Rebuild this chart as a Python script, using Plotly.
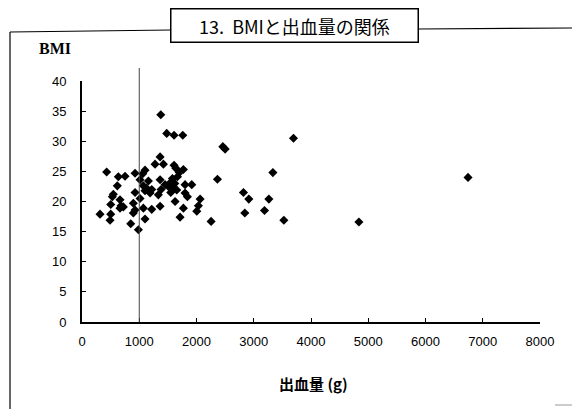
import plotly.graph_objects as go

# Data: blood loss (g) vs BMI
blood_loss = [315, 431, 490, 502, 502, 530, 547, 617, 635, 664, 664, 682, 722, 752,
              851, 897, 897, 927, 927, 927, 985, 1014, 1014, 1061, 1072, 1072, 1101,
              1101, 1101, 1130, 1160, 1189, 1218, 1218, 1276, 1334, 1364, 1364, 1376,
              1381, 1364, 1422, 1451, 1480, 1509, 1550, 1580, 1608, 1608, 1626, 1640,
              1655, 1667, 1700, 1713, 1760, 1771, 1771, 1800, 1800, 1841, 1917, 2005,
              2033, 2063, 2255, 2366, 2460, 2500, 2820, 2844, 2914, 3188, 3264, 3334,
              3526, 3694, 4837, 6743, 1589, 1550, 1620]
bmi = [17.9, 24.9, 16.9, 17.9, 19.5, 20.8, 21.2, 22.6, 24.1, 20.3, 18.9, 19.3, 19.1, 24.2,
       16.3, 19.7, 18.1, 24.7, 21.5, 18.6, 15.3, 20.5, 23.6, 24.6, 22.6, 18.9, 25.2,
       17.1, 21.8, 22.2, 23.4, 21.4, 18.7, 22.0, 26.2, 21.1, 23.6, 19.2, 34.4,
       22.0, 27.4, 26.2, 22.8, 31.3, 22.5, 23.2, 23.8, 31.0, 26.0, 20.0, 25.5,
       21.9, 24.1, 24.8, 17.4, 31.0, 25.3, 18.9, 22.8, 21.4, 20.8, 22.8, 18.4,
       19.3, 20.4, 16.7, 23.7, 29.1, 28.7, 21.5, 18.1, 20.4, 18.5, 20.4, 24.8,
       16.9, 30.5, 16.6, 24.0, 22.5, 21.5, 23.0]

x_ticks = [0, 1000, 2000, 3000, 4000, 5000, 6000, 7000, 8000]
y_ticks = [0, 5, 10, 15, 20, 25, 30, 35, 40]
ref_line_x = 1000

title_text = "13.  BMIと出血量の関係"
x_title = "出血量 (g)"
y_title = "BMI"

W, H = 572, 409
L, R, T, B = 82, 32, 81, 87
PW, PH = W - L - R, H - T - B


def px(xp):
    return (xp - L) / PW


def py(yp):
    return (H - B - yp) / PH


fig = go.Figure()
fig.add_trace(go.Scatter(
    x=blood_loss, y=bmi, mode="markers",
    marker=dict(symbol="diamond", size=7, color="black"),
    showlegend=False, cliponaxis=False,
))

shapes = [
    # reference line at 1000 g
    dict(type="line", xref="x", yref="paper", x0=ref_line_x, x1=ref_line_x,
         y0=0, y1=py(68), line=dict(color="#444", width=1)),
    # frame
    dict(type="line", xref="paper", yref="paper", x0=px(10), x1=px(10),
         y0=py(32), y1=py(409), line=dict(color="black", width=1.2)),
    dict(type="line", xref="paper", yref="paper", x0=px(10), x1=px(171),
         y0=py(32), y1=py(30), line=dict(color="black", width=1.2)),
    dict(type="line", xref="paper", yref="paper", x0=px(418), x1=px(572),
         y0=py(29), y1=py(28), line=dict(color="black", width=1.2)),
    dict(type="line", xref="paper", yref="paper", x0=px(555), x1=px(572),
         y0=py(405), y1=py(405), line=dict(color="#999", width=1)),
]

annotations = [
    dict(text=title_text, xref="paper", yref="paper", x=px(294), y=py(26),
         showarrow=False, xanchor="center", yanchor="middle",
         font=dict(family="Noto Sans CJK JP", size=18, color="black"),
         bordercolor="black", borderwidth=1.5, borderpad=3, bgcolor="white",
         width=240),
    dict(text="<b>" + y_title + "</b>", xref="paper", yref="paper", x=px(37), y=py(48),
         showarrow=False, xanchor="left", yanchor="middle",
         font=dict(family="Liberation Serif", size=16, color="black")),
    dict(text="<b>" + x_title + "</b>", xref="paper", yref="paper", x=px(313), y=py(383),
         showarrow=False, xanchor="center", yanchor="middle",
         font=dict(family="Noto Sans CJK JP", size=15, color="black")),
]

fig.update_layout(
    width=W, height=H,
    margin=dict(l=L, r=R, t=T, b=B, pad=0),
    paper_bgcolor="white", plot_bgcolor="white",
    shapes=shapes, annotations=annotations,
    xaxis=dict(range=[0, 8000], tickvals=x_ticks, ticktext=[str(v) for v in x_ticks],
               showgrid=False, zeroline=False, showline=True, linecolor="black",
               linewidth=2, ticks="inside", ticklen=4, tickcolor="black",
               ticklabelstandoff=6,
               tickfont=dict(family="Liberation Sans", size=13, color="black")),
    yaxis=dict(range=[0, 40], tickvals=y_ticks, ticktext=[str(v) for v in y_ticks],
               showgrid=False, zeroline=False, showline=True, linecolor="black",
               linewidth=2, ticks="inside", ticklen=4, tickcolor="black",
               ticklabelstandoff=11,
               tickfont=dict(family="Liberation Sans", size=13, color="black")),
)

fig.write_html("out.html")
